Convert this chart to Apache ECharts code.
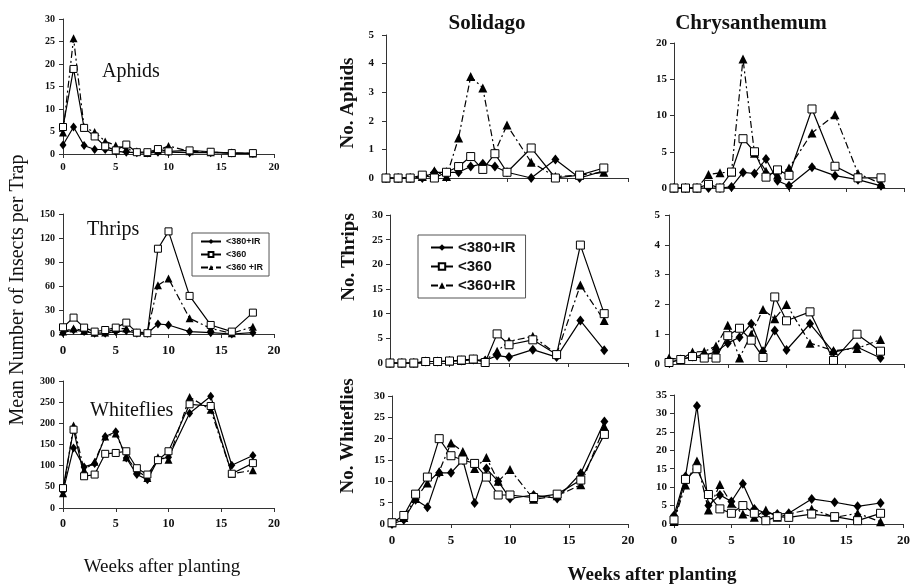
<!DOCTYPE html>
<html>
<head>
<meta charset="utf-8">
<script src="https://cdn.jsdelivr.net/npm/echarts@6/dist/echarts.min.js"></script>
<style>
  html, body { margin: 0; padding: 0; background: #fff; }
  #chart { width: 913px; height: 584px; }
</style>
</head>
<body>
<div id="chart"></div>
<script>
// weeks after planting (same for all panels)
var weeks = [0, 1, 2, 3, 4, 5, 6, 7, 8, 9, 10, 12, 14, 16, 18];
var seriesNames = ['<380+IR', '<360', '<360+IR'];

// left column: mean number of insects per trap
var aphidsMean380IR = [2, 6, 1.9, 1, 1, 0.6, 0.4, 0.3, 0.2, 0.4, 0.4, 0.3, 0.3, 0.2, 0.1];
var aphidsMean360 = [6, 18.9, 5.8, 3.9, 1.7, 0.8, 2.1, 0.4, 0.4, 1.1, 0.6, 0.8, 0.5, 0.2, 0.2];
var aphidsMean360IR = [4.8, 25.7, 5.9, 4.9, 2.8, 1.9, 1.1, 0.6, 0.2, 0.8, 1.8, 0.6, 0.4, 0.2, 0.1];

var thripsMean380IR = [1.7, 5, 3, 1, 1, 3, 4, 1, 1, 12.5, 11.3, 3, 1.7, 0, 1.7];
var thripsMean360 = [8.4, 20.5, 8, 3, 5, 8, 14.2, 1.7, 1, 106.6, 128.3, 47.6, 11.3, 3, 26.7];
var thripsMean360IR = [3, 7, 4, 1.7, 2, 6.3, 7, 2, 2, 61, 69.4, 19.6, 7, 0.8, 9.2];

var whiteMean380IR = [39, 142, 97, 105, 169, 180, 118, 79, 67, 114, 120, 224, 264, 101, 124];
var whiteMean360 = [47, 185, 75, 79, 128, 130, 134, 94, 79, 113, 134, 245, 241, 81, 106];
var whiteMean360IR = [35, 195, 89, 109, 169, 176, 120, 89, 71, 120, 114, 262, 232, 81, 89];

// Solidago
var solAphids380IR = [0, 0, 0, 0, 0.2, 0.2, 0.2, 0.4, 0.5, 0.4, 0.2, 0, 0.65, 0, 0.25];
var solAphids360 = [0, 0, 0, 0.1, 0, 0.2, 0.4, 0.75, 0.3, 0.85, 0.2, 1.05, 0, 0.1, 0.35];
var solAphids360IR = [0, 0, 0, 0.05, 0.25, 0.05, 1.4, 3.55, 3.15, 0.9, 1.85, 0.55, 0.05, 0.1, 0.2];

var solThrips380IR = [0, 0, 0, 0.3, 0.3, 0.4, 0.5, 0.7, 0.5, 1.5, 1.2, 2.7, 1.2, 8.6, 2.6];
var solThrips360 = [0, 0, 0, 0.3, 0.3, 0.4, 0.6, 0.8, 0.1, 5.9, 3.7, 4.7, 1.7, 23.9, 10];
var solThrips360IR = [0, 0, 0, 0.3, 0.3, 0.4, 0.5, 0.8, 0.5, 2.4, 4.4, 5.4, 1.8, 15.8, 8.6];

var solWhite380IR = [0, 1, 5.7, 3.9, 12, 12, 15, 4.9, 13, 10, 6, 6.8, 6, 11.9, 24];
var solWhite360 = [0.3, 2, 7, 11, 20, 16, 15, 14.2, 11, 6.8, 6.8, 6.2, 7, 10.3, 21];
var solWhite360IR = [0.3, 1.5, 6, 9.6, 12.3, 19, 17, 13, 15.6, 10, 12.8, 5.8, 6.6, 9.2, 22.8];

// Chrysanthemum
var chrAphids380IR = [0, 0, 0, 0, 0, 0.15, 2.15, 2, 4, 1, 0.3, 2.85, 1.7, 1.15, 0.3];
var chrAphids360 = [0, 0, 0, 0.5, 0, 2.2, 6.8, 5, 1.5, 2.5, 1.75, 10.9, 3, 1.4, 1.4];
var chrAphids360IR = [0, 0, 0, 1.85, 2.1, 2.2, 17.8, 4.8, 2.3, 1.8, 2.75, 7.6, 10.1, 2, 0.6];

var chrThrips380IR = [0.05, 0.15, 0.25, 0.3, 0.4, 0.7, 0.9, 1.35, 0.43, 1.12, 0.47, 1.35, 0.4, 0.57, 0.2];
var chrThrips360 = [0.05, 0.15, 0.25, 0.2, 0.2, 0.95, 1.2, 0.8, 0.22, 2.25, 1.45, 1.75, 0.12, 1.0, 0.43];
var chrThrips360IR = [0.2, 0.15, 0.4, 0.42, 0.6, 1.3, 0.2, 1.0, 1.83, 1.52, 2.0, 0.7, 0.45, 0.52, 0.82];

var chrWhite380IR = [2.3, 12.9, 32, 5, 7.9, 6.1, 10.9, 4.1, 3, 2.7, 2.9, 6.8, 5.9, 4.8, 5.7];
var chrWhite360 = [1.1, 12.1, 15, 8, 4.1, 2.9, 5, 2.9, 0.9, 2, 1.8, 2.7, 2, 0.9, 2.9];
var chrWhite360IR = [0.7, 10.6, 17.1, 3.8, 10.7, 5.6, 2.7, 1.8, 3.8, 1.8, 2.7, 4.1, 1.8, 2.9, 0.6];

var serif = '"Liberation Serif", "Times New Roman", serif';
var sans = '"Liberation Sans", Arial, sans-serif';

// panel layout
var panels = [
  { left: 63, top: 19, width: 211, height: 135, yMax: 30, yStep: 5, xLab: 11, yLab: 10, yGap: 8, sym: 7,
    data: [aphidsMean380IR, aphidsMean360, aphidsMean360IR] },
  { left: 63, top: 214, width: 211, height: 120, yMax: 150, yStep: 30, xLab: 13, yLab: 10, yGap: 8, sym: 7,
    data: [thripsMean380IR, thripsMean360, thripsMean360IR] },
  { left: 63, top: 381, width: 211, height: 127, yMax: 300, yStep: 50, xLab: 12, yLab: 10, yGap: 8, sym: 7,
    data: [whiteMean380IR, whiteMean360, whiteMean360IR] },
  { left: 386, top: 35, width: 242, height: 143, yMax: 5, yStep: 1, xLab: 0, yLab: 11, yGap: 12, sym: 8,
    data: [solAphids380IR, solAphids360, solAphids360IR] },
  { left: 390, top: 215, width: 238, height: 148, yMax: 30, yStep: 5, xLab: 0, yLab: 11, yGap: 7, sym: 8,
    data: [solThrips380IR, solThrips360, solThrips360IR] },
  { left: 392, top: 396, width: 236, height: 128, yMax: 30, yStep: 5, xLab: 13, yLab: 11, yGap: 7, sym: 8,
    data: [solWhite380IR, solWhite360, solWhite360IR] },
  { left: 674, top: 43, width: 230, height: 145, yMax: 20, yStep: 5, xLab: 0, yLab: 11, yGap: 7, sym: 8,
    data: [chrAphids380IR, chrAphids360, chrAphids360IR] },
  { left: 669, top: 215, width: 235, height: 149, yMax: 5, yStep: 1, xLab: 0, yLab: 11, yGap: 9, sym: 8,
    data: [chrThrips380IR, chrThrips360, chrThrips360IR] },
  { left: 674, top: 395, width: 230, height: 129, yMax: 35, yStep: 5, xLab: 13, yLab: 11, yGap: 7, sym: 8,
    data: [chrWhite380IR, chrWhite360, chrWhite360IR] }
];

var axisColor = '#333';
var grids = [], xAxes = [], yAxes = [], series = [];

panels.forEach(function (p, i) {
  grids.push({ left: p.left, top: p.top, width: p.width, height: p.height });
  xAxes.push({
    type: 'value', gridIndex: i, min: 0, max: 20, interval: 5,
    axisLine: { show: true, lineStyle: { color: axisColor, width: 1 } },
    axisTick: { show: true, length: 4, lineStyle: { color: axisColor } },
    splitLine: { show: false },
    axisLabel: {
      show: p.xLab > 0, margin: p.xLab > 11 ? 10 : 8,
      fontFamily: serif, fontWeight: 'bold', fontSize: p.xLab || 12, color: '#111'
    }
  });
  yAxes.push({
    type: 'value', gridIndex: i, min: 0, max: p.yMax, interval: p.yStep,
    axisLine: { show: true, lineStyle: { color: axisColor, width: 1 } },
    axisTick: { show: true, length: 4, lineStyle: { color: axisColor } },
    splitLine: { show: false },
    axisLabel: { margin: p.yGap, fontFamily: serif, fontWeight: 'bold', fontSize: p.yLab, color: '#111' }
  });
  p.data.forEach(function (vals, k) {
    var s = {
      name: seriesNames[k],
      type: 'line',
      xAxisIndex: i, yAxisIndex: i,
      data: weeks.map(function (w, j) { return [w, vals[j]]; }),
      animation: false,
      lineStyle: { color: '#000', width: 1.2, type: 'solid' },
      itemStyle: { color: '#000' },
      z: 2 + k
    };
    if (k === 0) {
      s.symbol = 'diamond'; s.symbolSize = [p.sym, p.sym + 2];
    } else if (k === 1) {
      s.symbol = 'rect'; s.symbolSize = p.sym;
      s.itemStyle = { color: '#fff', borderColor: '#000', borderWidth: 1 };
      s.z = 5;
    } else {
      s.symbol = 'triangle'; s.symbolSize = p.sym + 1;
      s.lineStyle = { color: '#000', width: 1.2, type: [7, 3, 2, 3] };
    }
    series.push(s);
  });
});

function vText(x, y, text, size, bold) {
  return {
    type: 'text', x: x, y: y, rotation: Math.PI / 2,
    style: {
      text: text, fontFamily: serif, fontSize: size, fontWeight: bold ? 'bold' : 'normal',
      fill: '#111', align: 'center', verticalAlign: 'middle'
    }
  };
}
function hText(x, y, text, size, bold, align) {
  return {
    type: 'text', x: x, y: y,
    style: {
      text: text, fontFamily: serif, fontSize: size, fontWeight: bold ? 'bold' : 'normal',
      fill: '#111', align: align || 'center', verticalAlign: 'middle'
    }
  };
}

var chart = echarts.init(document.getElementById('chart'));
chart.setOption({
  backgroundColor: '#fff',
  animation: false,
  grid: grids,
  xAxis: xAxes,
  yAxis: yAxes,
  series: series,
  legend: [
    {
      left: 192, top: 233, orient: 'vertical', selectedMode: false,
      data: seriesNames, itemWidth: 20, itemHeight: 6, itemGap: 4,
      padding: [4, 6, 4, 8], borderColor: '#555', borderWidth: 1,
      formatter: function (n) { return n === '<360+IR' ? '<360 +IR' : n; },
      textStyle: { fontFamily: sans, fontWeight: 'bold', fontSize: 9, color: '#111' }
    },
    {
      left: 418, top: 235, orient: 'vertical', selectedMode: false,
      data: seriesNames, itemWidth: 22, itemHeight: 8, itemGap: 4,
      padding: [5, 10, 5, 12], borderColor: '#555', borderWidth: 1,
      textStyle: { fontFamily: sans, fontWeight: 'bold', fontSize: 15, color: '#111' }
    }
  ],
  graphic: [
    vText(18, 290, 'Mean Number of Insects per Trap', 20, false),
    hText(102, 72, 'Aphids', 20, false, 'left'),
    hText(87, 230, 'Thrips', 20, false, 'left'),
    hText(90, 411, 'Whiteflies', 20, false, 'left'),
    hText(162, 567, 'Weeks after planting', 19, false),
    hText(487, 24, 'Solidago', 21, true),
    hText(751, 24, 'Chrysanthemum', 21, true),
    vText(348, 103, 'No. Aphids', 19, true),
    vText(349, 257, 'No. Thrips', 19, true),
    vText(348, 436, 'No. Whiteflies', 19, true),
    hText(652, 575, 'Weeks after planting', 19, true)
  ]
});
</script>
</body>
</html>
